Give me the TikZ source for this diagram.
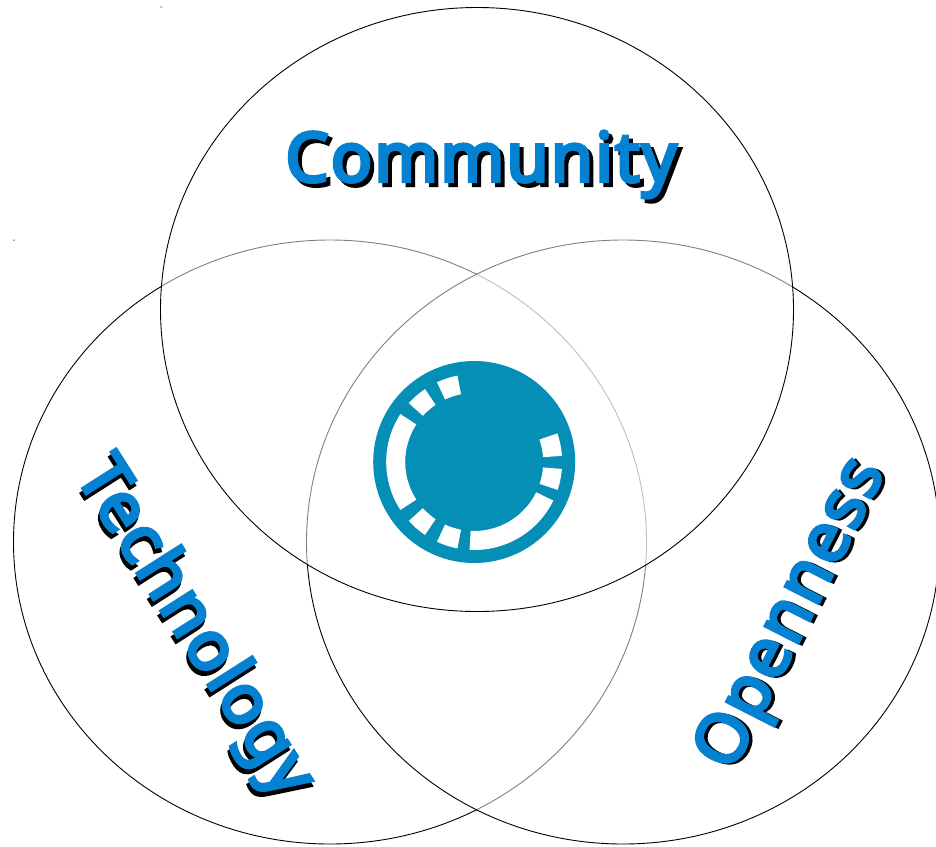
\documentclass[tikz,border=0pt]{standalone}
\usepackage{fontspec}
\newfontfamily\labelfont{Noto Sans}[FakeBold=5,LetterSpace=3]
\definecolor{logoblue}{HTML}{058FB7}
\definecolor{textblue}{HTML}{0481D1}
\tikzset{
  venn/.style={draw=black,line width=0.9pt,fill=white,fill opacity=0.5,draw opacity=1},
  label/.style={font=\labelfont\fontsize{68.5pt}{78pt}\selectfont,inner sep=0pt,anchor=center},
  speck/.style={fill=black!70,inner sep=0pt,minimum size=1.5pt,circle}
}
\newcommand{\shadowlabel}[7]{% name, x, y, angle, text, dx, dy
  \node[label,text=black,rotate=#4] (#1s) at (#2+#6,#3+#7) {#5};
  \node[label,text=textblue,rotate=#4] (#1) at (#2,#3) {#5};
}
\newcommand{\seg}[2]{%
  \fill[white] (logo.center) ++(#1:69) arc[start angle=#1,end angle=#2,radius=69]
    -- ++(#2:19) arc[start angle=#2,end angle=#1,radius=88] -- cycle;
}
\begin{document}
\begin{tikzpicture}[x=1pt,y=-1pt]
\useasboundingbox (0,0) rectangle (936,846);
\clip (0,0) rectangle (936,846);
\fill[white] (0,0) rectangle (936,846);
\path[venn] (330,542) ellipse[x radius=316.5,y radius=302];
\path[venn] (623,542) ellipse[x radius=316.5,y radius=302];
\path[venn] (477,309.5) ellipse[x radius=316.5,y radius=302];
\node[speck] (s1) at (161,7) {};
\node[speck] (s2) at (14,240) {};
\node[circle,fill=logoblue,minimum size=202pt,inner sep=0pt] (logo) at (474.2,462) {};
\begin{scope}[y=1pt]
\seg{147}{213}
\seg{124}{138}
\seg{101}{115}
\seg{4}{19}
\seg{-18.5}{-4.5}
\seg{-93}{-26}
\seg{222}{236}
\seg{245}{259}
\end{scope}
\shadowlabel{community}{481}{164.5}{0}{Community}{4}{4}
\shadowlabel{technology}{193}{628}{-57.5}{Technology}{-1.5}{5}
\shadowlabel{openness}{793.5}{615}{63}{Openness}{3.5}{1}
\end{tikzpicture}
\end{document}
